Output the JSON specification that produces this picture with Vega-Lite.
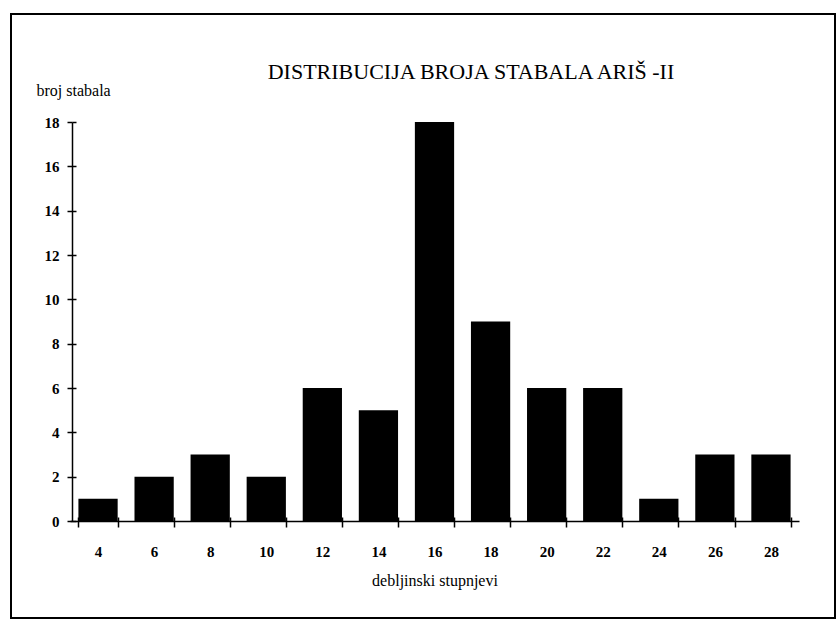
{
  "$schema": "https://vega.github.io/schema/vega-lite/v6.json",
  "autosize": {"type": "none"},
  "width": 824,
  "height": 604,
  "padding": {"left": 11, "top": 14, "right": 2, "bottom": 3},
  "background": "white",
  "title": {
    "text": "DISTRIBUCIJA BROJA STABALA ARIŠ -II",
    "font": "Liberation Serif",
    "fontSize": 22,
    "fontWeight": "normal",
    "color": "black",
    "anchor": "middle",
    "dx": 48,
    "dy": 74
  },
  "data": {
    "values": [
      {"stupanj": 4, "broj": 1},
      {"stupanj": 6, "broj": 2},
      {"stupanj": 8, "broj": 3},
      {"stupanj": 10, "broj": 2},
      {"stupanj": 12, "broj": 6},
      {"stupanj": 14, "broj": 5},
      {"stupanj": 16, "broj": 18},
      {"stupanj": 18, "broj": 9},
      {"stupanj": 20, "broj": 6},
      {"stupanj": 22, "broj": 6},
      {"stupanj": 24, "broj": 1},
      {"stupanj": 26, "broj": 3},
      {"stupanj": 28, "broj": 3}
    ]
  },
  "layer": [
    {
      "mark": {"type": "bar", "color": "black"},
      "encoding": {
        "x": {
          "field": "stupanj",
          "type": "ordinal",
          "scale": {"range": [59, 788], "paddingInner": 0.3, "paddingOuter": 0.15},
          "axis": {
            "orient": "bottom",
            "offset": -97,
            "tickBand": "extent",
            "tickSize": 6,
            "tickWidth": 1.5,
            "tickColor": "black",
            "domainColor": "black",
            "domainWidth": 1.5,
            "labelAngle": 0,
            "labelPadding": 17,
            "labelFont": "Liberation Serif",
            "labelFontSize": 15,
            "labelFontWeight": "bold",
            "labelColor": "black",
            "grid": false,
            "title": "debljinski stupnjevi",
            "titleFont": "Liberation Serif",
            "titleFontSize": 16,
            "titleFontWeight": "normal",
            "titleColor": "black",
            "titlePadding": 13
          }
        },
        "y": {
          "field": "broj",
          "type": "quantitative",
          "scale": {"domain": [0, 18], "range": [507, 108], "nice": false},
          "axis": {
            "orient": "left",
            "offset": -61,
            "values": [0, 2, 4, 6, 8, 10, 12, 14, 16, 18],
            "tickSize": 5,
            "tickWidth": 1.5,
            "tickColor": "black",
            "domainColor": "black",
            "domainWidth": 1.5,
            "labelPadding": 8,
            "labelFont": "Liberation Serif",
            "labelFontSize": 15,
            "labelFontWeight": "bold",
            "labelColor": "black",
            "grid": false,
            "title": "broj stabala",
            "titleAngle": 0,
            "titleX": -36,
            "titleY": 76,
            "titleAlign": "left",
            "titleBaseline": "middle",
            "titleFont": "Liberation Serif",
            "titleFontSize": 16,
            "titleFontWeight": "normal",
            "titleColor": "black"
          }
        }
      }
    },
    {
      "mark": {"type": "bar", "opacity": 0},
      "encoding": {
        "x": {
          "field": "stupanj",
          "type": "ordinal",
          "axis": {
            "orient": "bottom",
            "offset": -97,
            "tickBand": "extent",
            "tickSize": -4,
            "tickWidth": 1.5,
            "tickColor": "black",
            "domain": false,
            "labels": false,
            "grid": false,
            "title": null
          }
        },
        "y": {
          "field": "broj",
          "type": "quantitative",
          "axis": {
            "orient": "left",
            "offset": -61,
            "values": [0, 2, 4, 6, 8, 10, 12, 14, 16, 18],
            "tickSize": -4,
            "tickWidth": 1.5,
            "tickColor": "black",
            "domain": false,
            "labels": false,
            "grid": false,
            "title": null
          }
        }
      }
    }
  ],
  "resolve": {"axis": {"x": "independent", "y": "independent"}},
  "config": {"view": {"stroke": "black", "strokeWidth": 2}}
}
